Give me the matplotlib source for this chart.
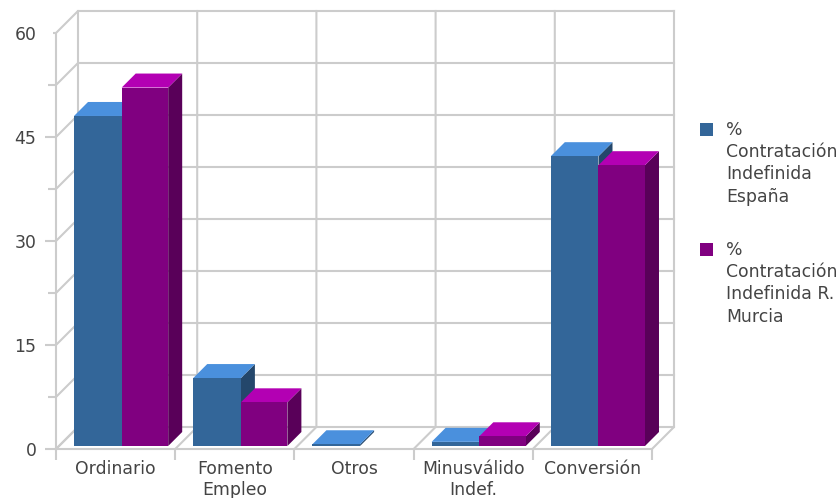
import matplotlib
matplotlib.use('Agg')
import matplotlib.pyplot as plt
from matplotlib.patches import Polygon, Rectangle
import numpy as np

categories = ['Ordinario', 'Fomento\nEmpleo', 'Otros', 'Minusválido\nIndef.', 'Conversión']
espana = [47.6, 9.8, 0.25, 0.6, 41.8]
murcia = [51.7, 6.3, 0, 1.4, 40.5]
y_major = [0, 15, 30, 45, 60]
y_minor = [7.5, 22.5, 37.5, 52.5]
legend_labels = ['%\nContratación\nIndefinida\nEspaña', '%\nContratación\nIndefinida R.\nMurcia']

W, H = 840, 498
GRID = '#cccccc'
TEXT = '#444444'
BLUE = ('#336699', '#4a90dd', '#24476b')
PURPLE = ('#800080', '#b300b3', '#590059')
FS = 12.4

fig = plt.figure(figsize=(W / 100, H / 100), dpi=100)
# front plane of the chart, in pixels
ax = fig.add_axes([56 / W, 1 - 449 / H, 596 / W, 416 / H])
ax.set_xlim(0, 5)
ax.set_ylim(0, 60)
ax.patch.set_visible(False)

px_x = 5 / 596
px_y = 60 / 416


def project(x, y, depth):
    # oblique projection, depth in pixels
    return x + depth * px_x, y + depth * px_y


def grid_line(points):
    xs, ys = zip(*points)
    ax.plot(xs, ys, c=GRID, lw=1.5, clip_on=False, zorder=1, solid_capstyle='projecting')


# walls and floor
BACK = 22
for v in y_major + y_minor:
    grid_line([project(0, v, 0), project(0, v, BACK), project(5, v, BACK)])
for i in range(6):
    grid_line([project(i, 0, 0), project(i, 0, BACK), project(i, 60, BACK)])


def bar3d(x0, width, value, colors):
    x1 = x0 + width
    d0, d1 = 3, 17
    face = [project(x0, 0, d0), project(x1, 0, d0), project(x1, value, d0), project(x0, value, d0)]
    top = [project(x0, value, d0), project(x1, value, d0), project(x1, value, d1), project(x0, value, d1)]
    side = [project(x1, 0, d0), project(x1, 0, d1), project(x1, value, d1), project(x1, value, d0)]
    for verts, c in zip((side, top, face), (colors[2], colors[1], colors[0])):
        ax.add_patch(Polygon(verts, closed=True, fc=c, ec='none', clip_on=False, zorder=3))


BLUE_W = 0.40
PURPLE_W = 0.39
for i in range(len(categories)):
    x0 = i + 0.126
    if espana[i] > 0:
        bar3d(x0, BLUE_W, espana[i], BLUE)
    if murcia[i] > 0:
        bar3d(x0 + BLUE_W, PURPLE_W, murcia[i], PURPLE)

for s in ('top', 'right'):
    ax.spines[s].set_visible(False)
for s in ('left', 'bottom'):
    ax.spines[s].set_color(GRID)
    ax.spines[s].set_linewidth(1.5)
    ax.spines[s].set_zorder(2)

ax.set_yticks(y_major)
ax.set_yticks(y_minor, minor=True)
ax.set_xticks(range(6))
ax.set_xticklabels([])
ax.set_xticks(np.arange(5) + 0.5, categories, minor=True)
ax.tick_params(axis='y', which='major', length=8, width=1.5, color=GRID, labelcolor=TEXT, labelsize=FS, pad=6)
ax.tick_params(axis='y', which='minor', length=6, width=1.5, color=GRID)
ax.tick_params(axis='x', which='major', length=8, width=1.5, color=GRID)
ax.tick_params(axis='x', which='minor', length=0, labelcolor=TEXT, labelsize=FS, pad=8)
for lab in ax.get_xticklabels(minor=True):
    lab.set_linespacing(1.2)
ax.yaxis.get_major_ticks()[-1].tick1line.set_markersize(2.5)

# legend
for k, (label, colors) in enumerate(zip(legend_labels, (BLUE, PURPLE))):
    top = 123 + k * 120
    fig.add_artist(Rectangle((700 / W, 1 - (top + 13) / H), 13 / W, 13 / H,
                             transform=fig.transFigure, fc=colors[0], ec='none'))
    fig.text(726 / W, 1 - (top - 2) / H, label, color=TEXT, fontsize=FS, va='top', ha='left', linespacing=1.3)

fig.savefig('out.png', dpi=100)
